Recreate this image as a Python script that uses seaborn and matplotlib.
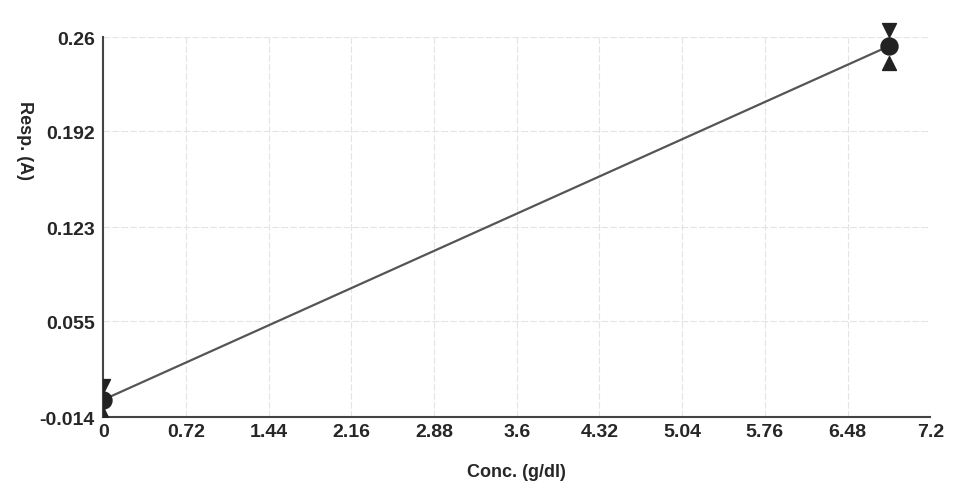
import matplotlib
matplotlib.use("Agg")
import matplotlib.pyplot as plt
from matplotlib.patches import Rectangle
import seaborn as sns
import pandas as pd

# Calibration points
conc = [0.0, 6.84]
resp = [-0.0015, 0.2535]
err = [0.010, 0.012]

x_ticks = [0, 0.72, 1.44, 2.16, 2.88, 3.6, 4.32, 5.04, 5.76, 6.48, 7.2]
x_labels = ["0", "0.72", "1.44", "2.16", "2.88", "3.6", "4.32", "5.04", "5.76", "6.48", "7.2"]
y_ticks = [-0.014, 0.055, 0.123, 0.192, 0.26]
y_labels = ["-0.014", "0.055", "0.123", "0.192", "0.26"]

df = pd.DataFrame({"Conc": conc, "Resp": resp})

sns.set_style("white")
plt.rcParams["font.family"] = ["Liberation Sans", "DejaVu Sans"]
plt.rcParams["font.weight"] = "bold"

fig = plt.figure(figsize=(9.65, 4.89), dpi=100)
ax = fig.add_axes([0.107, 0.145, 0.857, 0.777])

sns.lineplot(x="Conc", y="Resp", data=df, color="#555555", linewidth=1.6, ax=ax)
sns.scatterplot(x="Conc", y="Resp", data=df, color="#222222", s=150, marker="o",
                edgecolor="#222222", zorder=5, ax=ax, legend=False)
upper = [r + e for r, e in zip(resp, err)]
lower = [r - e for r, e in zip(resp, err)]
ax.scatter(conc, upper, marker="v", s=100, color="#222222", zorder=5)
ax.scatter(conc, lower, marker="^", s=100, color="#222222", zorder=5)

# clip markers at the axes lines but let them run over the top
clip_box = Rectangle((0, 0), 1.1, 1.2, transform=ax.transAxes)
for c in ax.collections:
    c.set_clip_path(clip_box)

ax.set_xlim(0, 7.2)
ax.set_ylim(-0.014, 0.26)
ax.set_xticks(x_ticks)
ax.set_xticklabels(x_labels, fontsize=14, fontweight="bold")
ax.set_yticks(y_ticks)
ax.set_yticklabels(y_labels, fontsize=14, fontweight="bold")
ax.tick_params(axis="x", length=0, pad=4)
ax.tick_params(axis="y", length=0, pad=6)

ax.grid(True, color="#e4e4e4", linewidth=0.8, linestyle=(0, (6, 2)))
for side in ["top", "right"]:
    ax.spines[side].set_visible(False)
for side in ["left", "bottom"]:
    ax.spines[side].set_color("#444444")
    ax.spines[side].set_linewidth(1.5)

ax.set_xlabel("Conc. (g/dl)", fontsize=13, fontweight="bold", labelpad=17)
ax.set_ylabel("Resp. (A)", fontsize=13, fontweight="bold", rotation=-90)
ax.yaxis.set_label_coords(-0.105, 0.73)

fig.savefig("out.png", dpi=100)
